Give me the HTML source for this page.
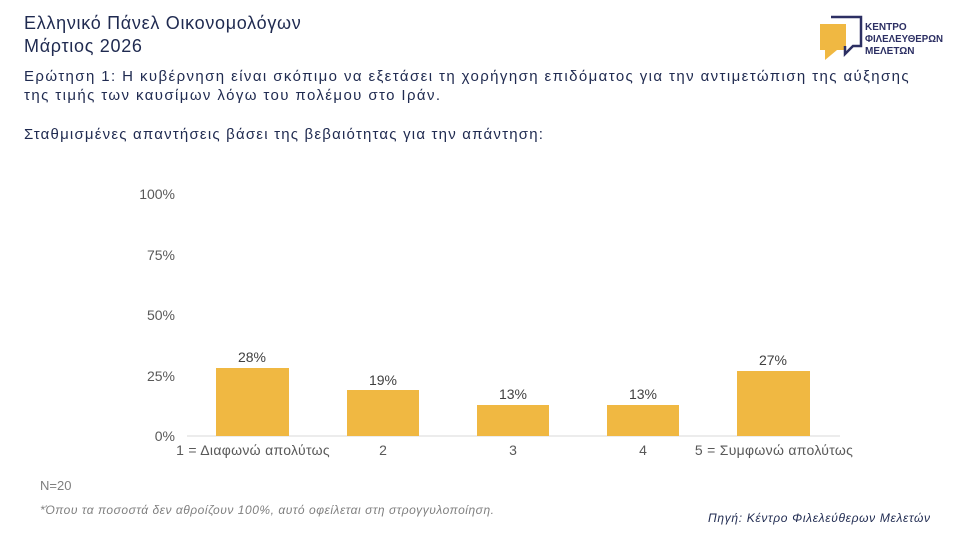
<!DOCTYPE html>
<html><head><meta charset="utf-8"><style>
body{margin:0;width:960px;height:540px;background:#fff;position:relative;overflow:hidden;font-family:"Liberation Sans","DejaVu Sans",sans-serif}
.t{position:absolute;white-space:nowrap}
</style></head><body>
<div class="t" style="left:24px;top:12px;font-size:18px;color:#1f2a50;line-height:23px;letter-spacing:0.7px">Ελληνικό Πάνελ Οικονομολόγων<br>Μάρτιος 2026</div>
<svg style="position:absolute;left:815px;top:10px" width="140" height="50">
<rect x="5" y="14" width="26" height="26" fill="#f0b842"/>
<polygon points="10,40 22,40 10,50" fill="#f0b842"/>
<path d="M16 7 H46 V36 H38 L30 44 V36" fill="none" stroke="#2c2f63" stroke-width="2.5"/>
<text x="50" y="20" font-size="10" font-weight="bold" fill="#2c2f63">ΚΕΝΤΡΟ</text>
<text x="50" y="32" font-size="10" font-weight="bold" fill="#2c2f63" textLength="78" lengthAdjust="spacingAndGlyphs">ΦΙΛΕΛΕΥΘΕΡΩΝ</text>
<text x="50" y="44" font-size="10" font-weight="bold" fill="#2c2f63">ΜΕΛΕΤΩΝ</text>
</svg>
<div class="t" style="left:24px;top:67px;font-size:15px;color:#1f2a50;line-height:19px;letter-spacing:1.4px">Ερώτηση 1: Η κυβέρνηση είναι σκόπιμο να εξετάσει τη χορήγηση επιδόματος για την αντιμετώπιση της αύξησης<br>της τιμής των καυσίμων λόγω του πολέμου στο Ιράν.</div>
<div class="t" style="left:24px;top:126px;font-size:15px;color:#1f2a50;letter-spacing:1.2px">Σταθμισμένες απαντήσεις βάσει της βεβαιότητας για την απάντηση:</div>
<svg style="position:absolute;left:0;top:0" width="960" height="540" font-family="Liberation Sans,sans-serif" font-size="14" fill="#595959">
<g text-anchor="end">
<text x="175" y="199">100%</text><text x="175" y="260">75%</text><text x="175" y="320">50%</text><text x="175" y="381">25%</text><text x="175" y="441">0%</text>
</g>
<line x1="187" y1="436" x2="840" y2="436" stroke="#d9d9d9"/>
<g fill="#f0b842">
<rect x="216" y="368" width="73" height="68"/>
<rect x="347" y="390" width="72" height="46"/>
<rect x="477" y="405" width="72" height="31"/>
<rect x="607" y="405" width="72" height="31"/>
<rect x="737" y="371" width="73" height="65"/>
</g>
<g text-anchor="middle" fill="#404040">
<text x="252" y="362">28%</text><text x="383" y="385">19%</text><text x="513" y="399">13%</text><text x="643" y="399">13%</text><text x="773" y="365">27%</text>
</g>
<g text-anchor="middle">
<text x="253" y="455" letter-spacing="0.3">1 = Διαφωνώ απολύτως</text><text x="383" y="455">2</text><text x="513" y="455">3</text><text x="643" y="455">4</text><text x="774" y="455" letter-spacing="0.3">5 = Συμφωνώ απολύτως</text>
</g>
<text x="40" y="490" font-size="13" fill="#7f7f7f">N=20</text>
<text x="40" y="514" font-size="12" font-style="italic" fill="#7f7f7f" textLength="454" lengthAdjust="spacing">*Όπου τα ποσοστά δεν αθροίζουν 100%, αυτό οφείλεται στη στρογγυλοποίηση.</text>
<text x="708" y="522" font-size="12" font-style="italic" fill="#1f2a50" textLength="222" lengthAdjust="spacing">Πηγή: Κέντρο Φιλελεύθερων Μελετών</text>
</svg>
</body></html>
